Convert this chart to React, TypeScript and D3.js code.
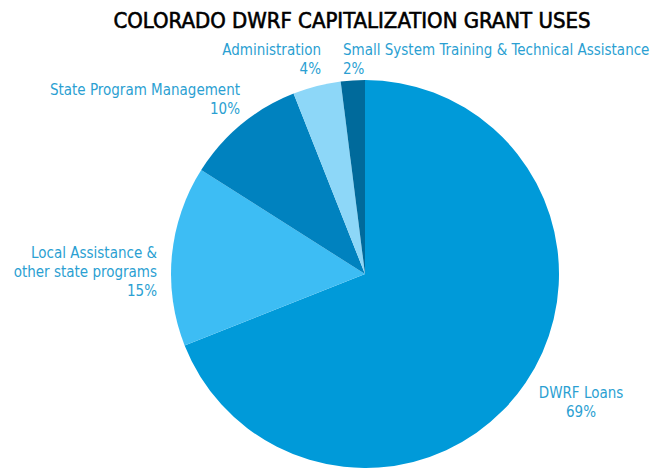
import React from "react";
import * as d3 from "d3";

const categories = [
  "DWRF Loans",
  "Local Assistance & other state programs",
  "State Program Management",
  "Administration",
  "Small System Training & Technical Assistance",
];
const values = [69, 15, 10, 4, 2];
const colors = ["#009ad9", "#3dbdf4", "#0082bf", "#8dd7f8", "#006a9b"];
const labelLines = [
  ["DWRF Loans", "69%"],
  ["Local Assistance &", "other state programs", "15%"],
  ["State Program Management", "10%"],
  ["Administration", "4%"],
  ["Small System Training & Technical Assistance", "2%"],
];
const title = "COLORADO DWRF CAPITALIZATION GRANT USES";

const W = 664, H = 468;
const cx = 365, cy = 274, R = 194;
const labelPos: { x: number; y: number; anchor: string }[] = [
  { x: 581, y: 398, anchor: "middle" },
  { x: 157, y: 258, anchor: "end" },
  { x: 240, y: 95, anchor: "end" },
  { x: 321, y: 55, anchor: "end" },
  { x: 343, y: 55, anchor: "start" },
];

export default function App() {
  const pie = d3.pie<number>().sort(null).value((d) => d);
  const arcs = pie(values);
  const arc = d3.arc<d3.PieArcDatum<number>>().innerRadius(0).outerRadius(R);
  return (
    <svg width={W} height={H} style={{ position: "absolute", left: 0, top: 0, background: "#fff" }}>
      <text x={352} y={28} textAnchor="middle" fontFamily="'DejaVu Sans Condensed', 'DejaVu Sans', sans-serif" fontSize={22} fill="#000" stroke="#000" strokeWidth={0.6} textLength={477} lengthAdjust="spacingAndGlyphs">{title}</text>
      <g transform={`translate(${cx},${cy})`}>
        {arcs.map((a, i) => (
          <path key={categories[i]} d={arc(a) || ""} fill={colors[i]} />
        ))}
      </g>
      {labelLines.map((lines, i) => (
        <text key={i} x={labelPos[i].x} y={labelPos[i].y} textAnchor={labelPos[i].anchor} fontFamily="'DejaVu Sans Condensed', 'DejaVu Sans', sans-serif" fontSize={15} fill="#2b9fd2">
          {lines.map((l, j) => (
            <tspan key={j} x={labelPos[i].x} dy={j === 0 ? 0 : 19}>{l}</tspan>
          ))}
        </text>
      ))}
    </svg>
  );
}
